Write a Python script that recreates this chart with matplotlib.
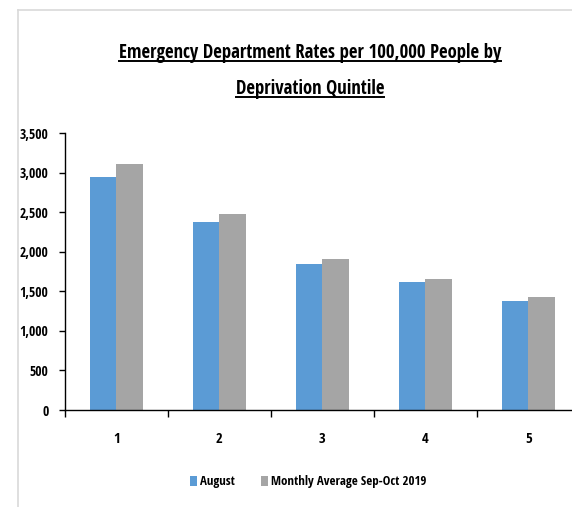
import numpy as np
import matplotlib.pyplot as plt
from matplotlib import font_manager as fm
from matplotlib.lines import Line2D
from matplotlib.ticker import FuncFormatter

# Data
quintiles = ["1", "2", "3", "4", "5"]
august = [2948, 2376, 1841, 1617, 1373]
monthly_avg = [3117, 2473, 1908, 1651, 1424]
series_names = ["August", "Monthly Average Sep-Oct 2019"]

title_lines = ["Emergency Department Rates per 100,000 People by", "Deprivation Quintile"]

blue = "#5B9BD5"
gray = "#A5A5A5"


# look for a narrow bold face (Calibri-like look of the original)
def pick_narrow_bold():
    fonts = fm.fontManager.ttflist
    prefs = ["Liberation Sans Narrow", "Open Sans Condensed", "Roboto Condensed", "DejaVu Sans"]
    for name in prefs:
        for f in fonts:
            if f.name == name and f.weight in ("bold", 700) and f.style == "normal":
                if name == "DejaVu Sans" and f.stretch not in ("condensed", "semi-condensed"):
                    continue
                return f.fname
    return None


narrow = pick_narrow_bold()


def fp(size):
    if narrow:
        return fm.FontProperties(fname=narrow, size=size)
    return fm.FontProperties(family="DejaVu Sans", weight="bold", size=size)


fig = plt.figure(figsize=(5.72, 5.07), dpi=100)
ax = fig.add_axes([0.1136, 0.1913, 0.90, 0.5459])

x = np.arange(len(quintiles))
w = 0.26
ax.bar(x - w / 2, august, w, color=blue, label=series_names[0], zorder=2)
ax.bar(x + w / 2, monthly_avg, w, color=gray, label=series_names[1], zorder=2)

ax.set_xlim(-0.5, len(quintiles) - 0.5)
ax.set_ylim(0, 3500)
ax.set_yticks(np.arange(0, 3501, 500))
ax.yaxis.set_major_formatter(FuncFormatter(lambda v, p: f"{int(v):,}"))
ax.set_xticks(x)
ax.set_xticklabels(quintiles)
ax.set_xticks(np.arange(-0.5, len(quintiles), 1), minor=True)
ax.tick_params(axis="x", which="major", length=0, pad=16)
ax.tick_params(axis="x", which="minor", length=5, width=1, direction="out")
ax.tick_params(axis="y", length=4, width=1, direction="out", pad=8)

for s in ["top", "right"]:
    ax.spines[s].set_visible(False)
ax.spines["left"].set_linewidth(1)
ax.spines["bottom"].set_linewidth(1)

for lab in ax.get_yticklabels():
    lab.set_fontproperties(fp(9.8))
for lab in ax.get_xticklabels():
    lab.set_fontproperties(fp(10.5))

# light chart border (left and top)
fig.add_artist(Line2D([18 / 572, 18 / 572], [0, 1 - 10 / 507], color="#D9D9D9", lw=1.2))
fig.add_artist(Line2D([18 / 572, 1], [1 - 10 / 507, 1 - 10 / 507], color="#D9D9D9", lw=1.2))

# title with underline
t1 = fig.text(310 / 572, 1 - 53 / 507, title_lines[0], ha="center", va="center",
              fontproperties=fp(13.5))
t2 = fig.text(310 / 572, 1 - 89 / 507, title_lines[1], ha="center", va="center",
              fontproperties=fp(13.5))
fig.canvas.draw()
r = fig.canvas.get_renderer()
inv = fig.transFigure.inverted()
for t in (t1, t2):
    bb = t.get_window_extent(r).transformed(inv)
    fig.add_artist(Line2D([bb.x0, bb.x1], [bb.y0 + 0.003, bb.y0 + 0.003], color="black", lw=1.4))

leg = fig.legend(loc="center", bbox_to_anchor=(308 / 572, 1 - 482 / 507), ncol=2,
                 frameon=False, prop=fp(9.3), handlelength=0.6, handleheight=0.8,
                 handletextpad=0.2, columnspacing=2.0)

fig.savefig("out.png", dpi=100)
